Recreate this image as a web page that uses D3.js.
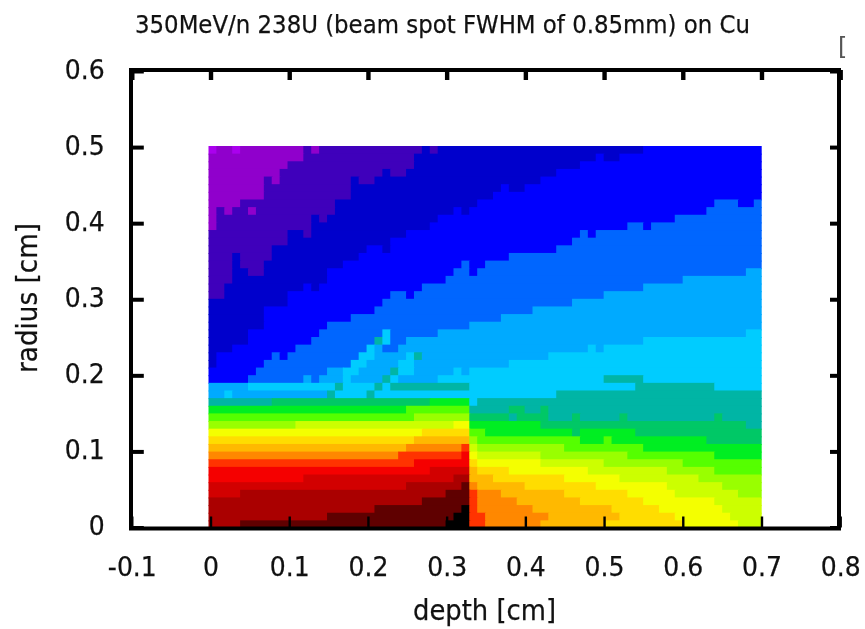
<!DOCTYPE html>
<html><head><meta charset="utf-8">
<script src="https://cdn.jsdelivr.net/npm/d3@7/dist/d3.min.js"></script>
<style>html,body{margin:0;padding:0;background:#fff}svg{display:block;filter:blur(0.45px)}text{font-family:"DejaVu Sans",sans-serif;fill:#111;stroke:#111;stroke-width:.25px}</style>
</head><body><div id="c"></div>
<script>
const titleText = "350MeV/n 238U (beam spot FWHM of 0.85mm) on Cu";
const xLabel = "depth [cm]";
const yLabel = "radius [cm]";
const xTicks = [-0.1,0,0.1,0.2,0.3,0.4,0.5,0.6,0.7,0.8];
const yTicks = [0,0.1,0.2,0.3,0.4,0.5,0.6];
const levelColors = ["#000000","#5f0000","#aa0000","#d20000","#f50000","#ff3300","#ff8800","#ffb900","#ffdd00","#f4ff00","#ccff00","#99ff00","#55ff00","#00ee22","#00c866","#00b5a5","#00ccff","#00aaff","#0066ff","#0000ff","#0000cc","#3f00bb","#9000cc","#aa00ee"];
// each row, from radius 0.50 down to 0: level, end column, level, end column, ...
const rowRuns = [
[23,1,22,3,23,4,22,12,21,13,22,14,21,27,20,28,21,29,20,55,19,70],
[22,12,21,26,20,49,19,50,20,52,19,70],
[22,10,21,26,20,47,19,70],
[22,9,21,22,20,23,21,25,20,44,19,70],
[22,7,21,8,22,9,21,18,20,19,21,21,20,42,19,70],
[22,7,21,18,20,37,19,38,20,40,19,70],
[22,7,21,18,20,36,19,70],
[22,4,21,16,20,34,19,64,18,67,19,69,18,70],
[22,1,21,2,22,3,21,5,22,6,21,16,20,31,19,32,20,33,19,63,18,70],
[22,1,21,13,20,14,21,15,20,29,19,59,18,70],
[22,1,21,13,20,28,19,53,18,55,19,56,18,70],
[21,10,20,12,21,13,20,25,19,47,18,48,19,49,18,70],
[21,10,20,23,19,46,18,70],
[21,8,20,20,19,22,20,23,19,44,18,70],
[21,3,20,4,21,8,20,19,19,38,18,70],
[21,3,20,4,21,7,20,17,19,32,18,33,19,35,18,70],
[21,3,20,5,21,7,20,15,19,31,18,33,19,34,18,68,17,70],
[21,3,20,15,19,30,18,60,17,70],
[21,2,20,12,19,13,20,14,19,27,18,55,17,70],
[21,2,20,10,19,23,18,25,19,26,18,50,17,70],
[20,10,19,22,18,46,17,70],
[20,7,19,21,18,41,17,70],
[20,7,19,18,18,37,17,70],
[20,7,19,15,18,33,17,70],
[20,5,19,14,18,22,16,23,18,29,17,68,16,70],
[20,5,19,13,18,21,15,22,16,23,18,25,17,55,16,70],
[20,3,19,11,18,20,16,21,17,22,18,24,17,48,16,49,17,50,16,70],
[20,1,19,8,18,9,19,10,18,19,16,21,17,25,16,26,15,27,17,43,16,70],
[20,1,19,7,18,18,16,20,17,24,16,26,17,38,16,70],
[19,6,18,15,17,17,16,19,17,23,15,24,16,26,17,31,16,32,17,33,16,70],
[19,5,18,12,17,13,18,14,17,17,16,18,17,22,15,23,16,24,17,29,16,50,15,55,16,70],
[17,5,16,16,15,17,16,21,15,22,16,23,15,33,16,54,15,64,16,70],
[17,2,16,3,17,15,15,16,16,20,15,21,16,44,15,70],
[15,8,14,28,13,33,16,34,15,70],
[13,25,12,33,15,38,14,40,15,42,14,43,15,70],
[12,26,11,33,14,38,15,39,14,43,15,46,14,47,15,52,14,53,15,64,14,65,15,70],
[11,11,10,31,9,33,13,42,14,68,15,70],
[9,27,8,33,12,35,13,46,14,47,13,54,14,70],
[8,26,7,33,11,34,12,47,13,50,12,51,13,63,14,70],
[7,25,6,32,5,33,10,34,11,45,12,55,13,70],
[6,24,5,32,4,33,9,34,10,42,11,53,12,64,13,70],
[5,26,4,33,8,34,9,42,10,50,11,60,12,70],
[4,28,3,33,7,34,8,38,9,48,10,58,11,64,12,70],
[4,12,3,31,2,33,7,36,8,45,9,52,10,62,11,70],
[3,25,2,32,1,33,6,34,7,40,8,49,9,58,10,65,11,70],
[3,4,2,30,1,33,5,34,6,37,7,45,8,53,9,59,10,67,11,70],
[2,27,1,33,5,34,6,39,7,47,8,55,9,64,10,70],
[2,21,1,32,0,33,5,34,6,41,7,51,8,57,9,65,10,70],
[2,15,1,31,0,33,5,35,6,43,7,52,8,59,9,66,10,70],
[2,4,1,30,0,33,5,35,6,42,7,50,8,60,9,67,10,70]
];

const W=865,H=629;
const x=d3.scaleLinear().domain([-0.1,0.8]).range([131.8,840.2]);
const y=d3.scaleLinear().domain([0,0.6]).range([527.5,71]);
const colX=d3.scaleLinear().domain([0,70]).range([208.5,761.7]);
const rowY=d3.scaleLinear().domain([0,50]).range([146,528]);
const svg=d3.select("#c").append("svg").attr("width",W).attr("height",H);

const cells=[];
rowRuns.forEach((runs,row)=>{let s=0;for(let i=0;i<runs.length;i+=2){cells.push({row,s,e:runs[i+1],lvl:runs[i]});s=runs[i+1];}});
svg.append("g").selectAll("rect").data(cells).join("rect")
 .attr("x",d=>colX(d.s)).attr("y",d=>rowY(d.row))
 .attr("width",d=>colX(d.e)-colX(d.s)+(d.e<70?1:0)).attr("height",d=>rowY(d.row+1)-rowY(d.row)+(d.row<49?1:0))
 .attr("fill",d=>levelColors[d.lvl]);

const tickFmt=d=>d3.format("")(d).replace("\u2212","-");
const squeeze=sel=>sel.attr("font-size",27).attr("lengthAdjust","spacingAndGlyphs")
 .attr("textLength",function(){return this.getComputedTextLength()*0.93;});
const ax=(gen,tx,ty,sw)=>{const g=svg.append("g").attr("transform",`translate(${tx},${ty})`).call(gen);
 g.selectAll("line").attr("stroke","#000").attr("stroke-width",sw);g.select(".domain").remove();return g;};
ax(d3.axisBottom(x).tickValues(xTicks).tickSizeInner(-11).tickSizeOuter(0).tickPadding(48).tickFormat(tickFmt),0,y(0),2.4)
 .selectAll("text").style("text-anchor","middle").attr("dy","0").attr("font-size",27).call(squeeze);
ax(d3.axisLeft(y).tickValues(yTicks).tickSizeInner(-12).tickSizeOuter(0).tickPadding(27).tickFormat(tickFmt),x(-0.1),0,4)
 .selectAll("text").attr("dy","0.26em").attr("font-size",27).call(squeeze);
ax(d3.axisTop(x).tickValues(xTicks).tickSizeInner(-10).tickSizeOuter(0).tickFormat(""),0,70,4.4);
ax(d3.axisRight(y).tickValues(yTicks).tickSizeInner(-9).tickSizeOuter(0).tickFormat(""),839,0,4);
svg.append("rect").attr("x",131).attr("y",70).attr("width",708).attr("height",458.5)
 .attr("fill","none").attr("stroke","#000").attr("stroke-width",4);

svg.append("text").attr("x",442.5).attr("y",33).attr("text-anchor","middle").attr("font-size",25.5).attr("textLength",615).attr("lengthAdjust","spacingAndGlyphs").text(titleText);
svg.append("text").attr("x",484.5).attr("y",620).attr("text-anchor","middle").attr("font-size",28).attr("textLength",143).attr("lengthAdjust","spacingAndGlyphs").text(xLabel);
svg.append("text").attr("transform","translate(37,298) rotate(-90)").attr("text-anchor","middle").attr("font-size",28).attr("textLength",150).attr("lengthAdjust","spacingAndGlyphs").text(yLabel);
svg.append("text").attr("x",838).attr("y",55).attr("font-size",24).style("fill","#555").style("stroke","none").text("[");
</script></body></html>
